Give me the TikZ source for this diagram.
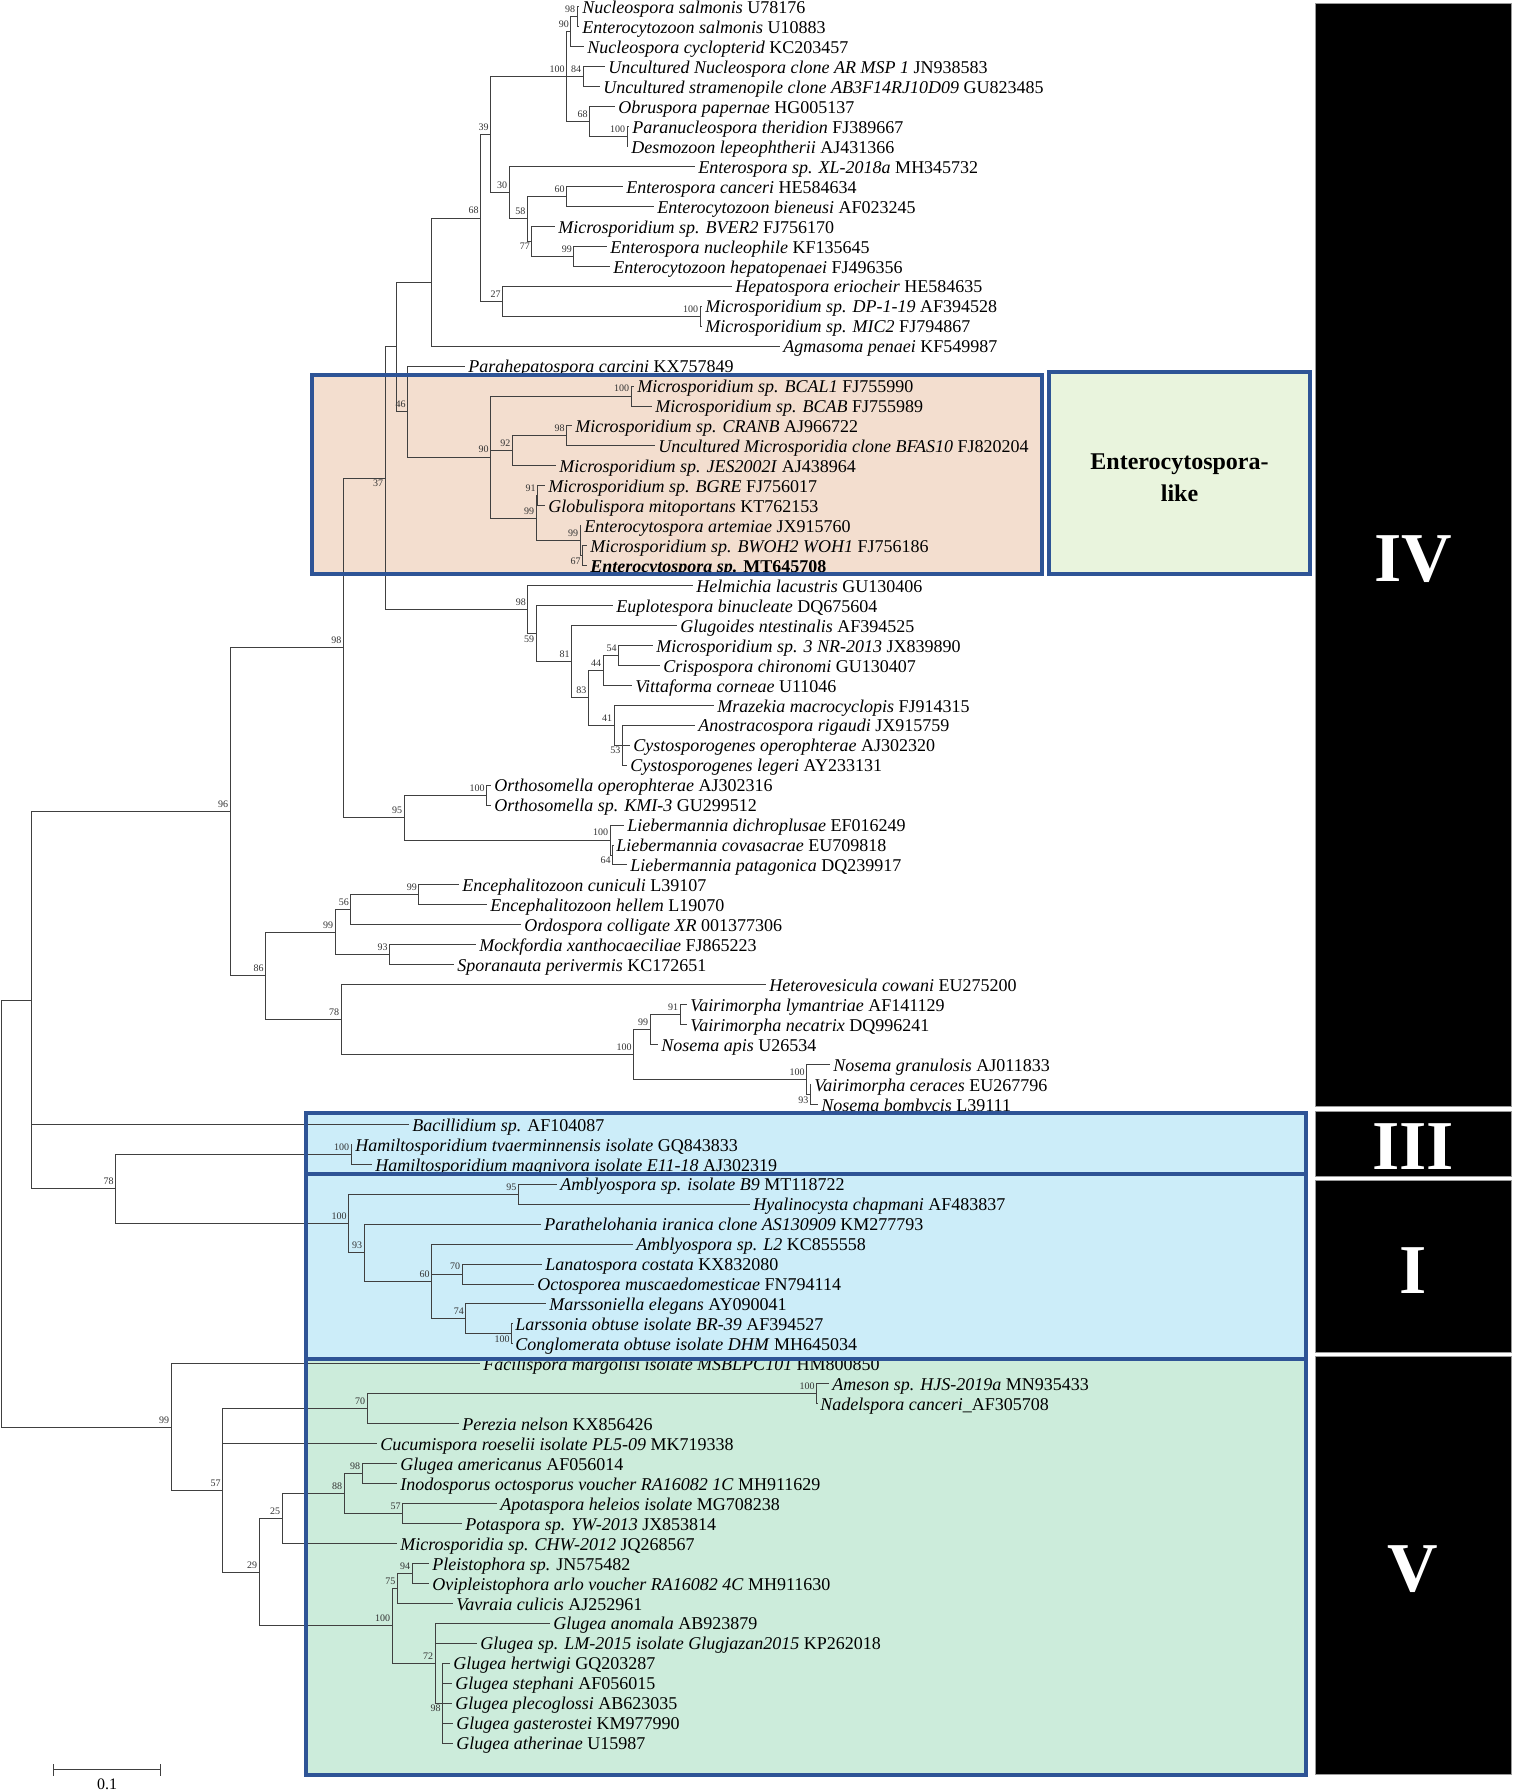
\documentclass[tikz,border=0pt]{standalone}
\usepackage{fontspec}
\setmainfont{Liberation Serif}
\definecolor{boxline}{RGB}{46,84,150}
\definecolor{peach}{RGB}{243,222,207}
\definecolor{palegreen}{RGB}{233,244,221}
\definecolor{skyfill}{RGB}{204,237,249}
\definecolor{mintfill}{RGB}{204,236,219}

\begin{document}
\begin{tikzpicture}[x=0.5pt, y=-9.9775pt,
    leaf/.style={anchor=west, inner xsep=1.5pt, inner ysep=0pt, text height=6.7pt, text depth=0pt, font=\fontsize{9}{10}\selectfont},
    boot/.style={font=\fontsize{5}{5}\selectfont, text=black!80, inner sep=0.8pt},
    bs/.style={label={[boot, yshift=1pt]above left:#1}},
    bsb/.style={label={[boot]below left:#1}},
    branch/.style={draw=black!75, line width=0.5pt},
    clade/.style={draw=boxline, line width=1.7pt},
    bar/.style={fill=black, draw=black!40, line width=0.5pt},
    roman/.style={text=white, font=\fontsize{35}{35}\bfseries}]
    \useasboundingbox (0,0.6542) rectangle (1512,90.456);

    %% clade shading
    \fill[peach] (312,19.45) rectangle (1042,29.42);
    \fill[skyfill] (306,56.43) rectangle (1306,68.76);
    \fill[mintfill] (306,68.76) rectangle (1306,89.60);

    %% Taxa
    \node[leaf] (l1) at (579,1) {\textit{Nucleospora salmonis} U78176};
    \node[leaf] (l2) at (579,2) {\textit{Enterocytozoon salmonis} U10883};
    \node[leaf] (l3) at (584,3) {\textit{Nucleospora cyclopterid} KC203457};
    \node[leaf] (l4) at (605,4) {\textit{Uncultured Nucleospora clone AR MSP 1} JN938583};
    \node[leaf] (l5) at (600,5) {\textit{Uncultured stramenopile clone AB3F14RJ10D09} GU823485};
    \node[leaf] (l6) at (615,6) {\textit{Obruspora papernae} HG005137};
    \node[leaf] (l7) at (629,7) {\textit{Paranucleospora theridion} FJ389667};
    \node[leaf] (l8) at (628,8) {\textit{Desmozoon lepeophtherii} AJ431366};
    \node[leaf] (l9) at (695,9) {\textit{Enterospora sp. XL-2018a} MH345732};
    \node[leaf] (l10) at (623,10) {\textit{Enterospora canceri} HE584634};
    \node[leaf] (l11) at (654,11) {\textit{Enterocytozoon bieneusi} AF023245};
    \node[leaf] (l12) at (555,12) {\textit{Microsporidium sp. BVER2} FJ756170};
    \node[leaf] (l13) at (607,13) {\textit{Enterospora nucleophile} KF135645};
    \node[leaf] (l14) at (610,14) {\textit{Enterocytozoon hepatopenaei} FJ496356};
    \node[leaf] (l15) at (732,15) {\textit{Hepatospora eriocheir} HE584635};
    \node[leaf] (l16) at (702,16) {\textit{Microsporidium sp. DP-1-19} AF394528};
    \node[leaf] (l17) at (702,17) {\textit{Microsporidium sp. MIC2} FJ794867};
    \node[leaf] (l18) at (780,18) {\textit{Agmasoma penaei} KF549987};
    \node[leaf] (l19) at (465,19) {\textit{Parahepatospora carcini} KX757849};
    \node[leaf] (l20) at (634,20) {\textit{Microsporidium sp. BCAL1} FJ755990};
    \node[leaf] (l21) at (652,21) {\textit{Microsporidium sp. BCAB} FJ755989};
    \node[leaf] (l22) at (572,22) {\textit{Microsporidium sp. CRANB} AJ966722};
    \node[leaf] (l23) at (655,23) {\textit{Uncultured Microsporidia clone BFAS10} FJ820204};
    \node[leaf] (l24) at (556,24) {\textit{Microsporidium sp. JES2002I} AJ438964};
    \node[leaf] (l25) at (545,25) {\textit{Microsporidium sp. BGRE} FJ756017};
    \node[leaf] (l26) at (545,26) {\textit{Globulispora mitoportans} KT762153};
    \node[leaf] (l27) at (581,27) {\textit{Enterocytospora artemiae} JX915760};
    \node[leaf] (l28) at (587,28) {\textit{Microsporidium sp. BWOH2 WOH1} FJ756186};
    \node[leaf] (l29) at (587,29) {\textbf{\textit{Enterocytospora sp.} MT645708}};
    \node[leaf] (l30) at (693,30) {\textit{Helmichia lacustris} GU130406};
    \node[leaf] (l31) at (613,31) {\textit{Euplotespora binucleate} DQ675604};
    \node[leaf] (l32) at (677,32) {\textit{Glugoides ntestinalis} AF394525};
    \node[leaf] (l33) at (653,33) {\textit{Microsporidium sp. 3 NR-2013} JX839890};
    \node[leaf] (l34) at (660,34) {\textit{Crispospora chironomi} GU130407};
    \node[leaf] (l35) at (632,35) {\textit{Vittaforma corneae} U11046};
    \node[leaf] (l36) at (714,36) {\textit{Mrazekia macrocyclopis} FJ914315};
    \node[leaf] (l37) at (695,37) {\textit{Anostracospora rigaudi} JX915759};
    \node[leaf] (l38) at (630,38) {\textit{Cystosporogenes operophterae} AJ302320};
    \node[leaf] (l39) at (627,39) {\textit{Cystosporogenes legeri} AY233131};
    \node[leaf] (l40) at (491,40) {\textit{Orthosomella operophterae} AJ302316};
    \node[leaf] (l41) at (491,41) {\textit{Orthosomella sp. KMI-3} GU299512};
    \node[leaf] (l42) at (624,42) {\textit{Liebermannia dichroplusae} EF016249};
    \node[leaf] (l43) at (613,43) {\textit{Liebermannia covasacrae} EU709818};
    \node[leaf] (l44) at (627,44) {\textit{Liebermannia patagonica} DQ239917};
    \node[leaf] (l45) at (459,45) {\textit{Encephalitozoon cuniculi} L39107};
    \node[leaf] (l46) at (487,46) {\textit{Encephalitozoon hellem} L19070};
    \node[leaf] (l47) at (521,47) {\textit{Ordospora colligate XR} 001377306};
    \node[leaf] (l48) at (476,48) {\textit{Mockfordia xanthocaeciliae} FJ865223};
    \node[leaf] (l49) at (454,49) {\textit{Sporanauta perivermis} KC172651};
    \node[leaf] (l50) at (766,50) {\textit{Heterovesicula cowani} EU275200};
    \node[leaf] (l51) at (687,51) {\textit{Vairimorpha lymantriae} AF141129};
    \node[leaf] (l52) at (687,52) {\textit{Vairimorpha necatrix} DQ996241};
    \node[leaf] (l53) at (658,53) {\textit{Nosema apis} U26534};
    \node[leaf] (l54) at (830,54) {\textit{Nosema granulosis} AJ011833};
    \node[leaf] (l55) at (811,55) {\textit{Vairimorpha ceraces} EU267796};
    \node[leaf] (l56) at (818,56) {\textit{Nosema bombycis} L39111};
    \node[leaf] (l57) at (409,57) {\textit{Bacillidium sp.} AF104087};
    \node[leaf] (l58) at (352,58) {\textit{Hamiltosporidium tvaerminnensis isolate} GQ843833};
    \node[leaf] (l59) at (372,59) {\textit{Hamiltosporidium magnivora isolate E11-18} AJ302319};
    \node[leaf] (l60) at (557,60) {\textit{Amblyospora sp. isolate B9} MT118722};
    \node[leaf] (l61) at (750,61) {\textit{Hyalinocysta chapmani} AF483837};
    \node[leaf] (l62) at (541,62) {\textit{Parathelohania iranica clone AS130909} KM277793};
    \node[leaf] (l63) at (633,63) {\textit{Amblyospora sp. L2} KC855558};
    \node[leaf] (l64) at (542,64) {\textit{Lanatospora costata} KX832080};
    \node[leaf] (l65) at (534,65) {\textit{Octosporea muscaedomesticae} FN794114};
    \node[leaf] (l66) at (546,66) {\textit{Marssoniella elegans} AY090041};
    \node[leaf] (l67) at (512,67) {\textit{Larssonia obtuse isolate BR-39} AF394527};
    \node[leaf] (l68) at (512,68) {\textit{Conglomerata obtuse isolate DHM} MH645034};
    \node[leaf] (l69) at (480,69) {\textit{Facilispora margolisi isolate MSBLPC101} HM800850};
    \node[leaf] (l70) at (829,70) {\textit{Ameson sp. HJS-2019a} MN935433};
    \node[leaf] (l71) at (817,71) {\textit{Nadelspora canceri}\_AF305708};
    \node[leaf] (l72) at (459,72) {\textit{Perezia nelson} KX856426};
    \node[leaf] (l73) at (377,73) {\textit{Cucumispora roeselii isolate PL5-09} MK719338};
    \node[leaf] (l74) at (397,74) {\textit{Glugea americanus} AF056014};
    \node[leaf] (l75) at (397,75) {\textit{Inodosporus octosporus voucher RA16082 1C} MH911629};
    \node[leaf] (l76) at (497,76) {\textit{Apotaspora heleios isolate} MG708238};
    \node[leaf] (l77) at (462,77) {\textit{Potaspora sp. YW-2013} JX853814};
    \node[leaf] (l78) at (397,78) {\textit{Microsporidia sp. CHW-2012} JQ268567};
    \node[leaf] (l79) at (429,79) {\textit{Pleistophora sp.} JN575482};
    \node[leaf] (l80) at (429,80) {\textit{Ovipleistophora arlo voucher RA16082 4C} MH911630};
    \node[leaf] (l81) at (453,81) {\textit{Vavraia culicis} AJ252961};
    \node[leaf] (l82) at (550,82) {\textit{Glugea anomala} AB923879};
    \node[leaf] (l83) at (477,83) {\textit{Glugea sp. LM-2015 isolate Glugjazan2015} KP262018};
    \node[leaf] (l84) at (450,84) {\textit{Glugea hertwigi} GQ203287};
    \node[leaf] (l85) at (452,85) {\textit{Glugea stephani} AF056015};
    \node[leaf] (l86) at (452,86) {\textit{Glugea plecoglossi} AB623035};
    \node[leaf] (l87) at (453,87) {\textit{Glugea gasterostei} KM977990};
    \node[leaf] (l88) at (453,88) {\textit{Glugea atherinae} U15987};

    %% Internal nodes with bootstrap values
    \coordinate[bs=98] (nucsal) at (577,1.5);
    \coordinate[bs=90] (nuc) at (570.8,2.25);
    \coordinate[bs=84] (uncl) at (583,4.5);
    \coordinate[bs=100] (desm) at (627,7.5);
    \coordinate[bs=68] (obr) at (589.5,6.75);
    \coordinate[bs=100] (nucgrp) at (566.5,4.5);
    \coordinate[bs=60] (entcan) at (566.5,10.5);
    \coordinate[bs=99] (hep) at (573.8,13.5);
    \coordinate[bsb=77] (c77) at (531.8,12.75);
    \coordinate[bs=58] (c58) at (527.4,11.625);
    \coordinate[bs=30] (c30) at (509,10.31);
    \coordinate[bs=39] (c39) at (490.6,7.41);
    \coordinate[bs=100] (dp) at (700,16.5);
    \coordinate[bs=27] (c27) at (502.7,15.75);
    \coordinate[bs=68] (c68) at (480.6,11.58);
    \coordinate (agm) at (431,14.79);
    \coordinate[bs=100] (bcal) at (631,20.5);
    \coordinate[bs=98] (cranb) at (566.6,22.5);
    \coordinate[bs=92] (c92) at (512.3,23.25);
    \coordinate[bs=91] (bgre) at (537.5,25.5);
    \coordinate[bsb=67] (mt) at (582.6,28.5);
    \coordinate[bs=99] (art) at (580.2,27.75);
    \coordinate[bs=99] (c99e) at (536,26.63);
    \coordinate[bs=90] (ecl) at (490.5,23.56);
    \coordinate[bs=46] (c46) at (407.5,21.28);
    \coordinate (c18) at (396.7,18.03);
    \coordinate[bs=54] (c54) at (618.5,33.5);
    \coordinate[bs=44] (c44) at (603,34.25);
    \coordinate[bsb=53] (cyst) at (622.3,38);
    \coordinate[bs=41] (c41) at (614.1,37);
    \coordinate[bs=83] (c83) at (588.4,35.625);
    \coordinate[bs=81] (c81) at (571.5,33.81);
    \coordinate[bsb=59] (c59) at (536,32.41);
    \coordinate[bs=98] (helm) at (527.8,31.2);
    \coordinate[bsb=37] (c37) at (385,24.62);
    \coordinate[bs=100] (orth) at (486.6,40.5);
    \coordinate[bsb=64] (c64) at (612.6,43.5);
    \coordinate[bs=100] (lieb) at (610.2,42.75);
    \coordinate[bs=95] (c95) at (404.2,41.625);
    \coordinate[bs=98] (c98) at (343.3,33.12);
    \coordinate[bs=99] (encph) at (418.8,45.5);
    \coordinate[bs=56] (c56) at (350.9,46.25);
    \coordinate[bs=93] (mock) at (389.7,48.5);
    \coordinate[bs=99] (enc) at (335,47.375);
    \coordinate[bs=91] (c91) at (680,51.5);
    \coordinate[bs=99] (vair) at (650,52.25);
    \coordinate[bsb=93] (bomb) at (810.4,55.5);
    \coordinate[bs=100] (gran) at (806.5,54.75);
    \coordinate[bs=100] (nos) at (633.5,53.5);
    \coordinate[bs=78] (c78) at (341.2,51.75);
    \coordinate[bs=86] (c86) at (265.7,49.56);
    \coordinate[bs=96] (c96) at (230,41.34);
    \coordinate[bs=100] (ham) at (351,58.5);
    \coordinate[bs=95] (ambl) at (518.4,60.5);
    \coordinate[bs=70] (lan) at (462.2,64.5);
    \coordinate[bsb=100] (lars) at (511.7,67.5);
    \coordinate[bs=74] (c74) at (465.8,66.75);
    \coordinate[bs=60] (c60) at (431.6,64.875);
    \coordinate[bs=93] (c93) at (364,63.44);
    \coordinate[bs=100] (cI) at (348.5,61.97);
    \coordinate[bs=78] (c78b) at (115.7,60.23);
    \coordinate (cIV) at (31.7,50.79);
    \coordinate[bs=100] (ame) at (816.7,70.5);
    \coordinate[bs=70] (c70) at (367,71.25);
    \coordinate[bs=98] (glam) at (362,74.5);
    \coordinate[bs=57] (apo) at (402.5,76.5);
    \coordinate[bs=88] (c88) at (344,75.5);
    \coordinate[bs=25] (c25) at (282,76.75);
    \coordinate[bs=94] (pleis) at (412,79.5);
    \coordinate[bs=75] (c75) at (397.3,80.25);
    \coordinate[bsb=98] (glu) at (442.7,86);
    \coordinate[bs=72] (c72) at (435,84);
    \coordinate[bs=100] (c100) at (392,82.125);
    \coordinate[bs=29] (c29) at (259,79.44);
    \coordinate[bs=57] (c57) at (222.7,75.34);
    \coordinate[bs=99] (cV) at (171.2,72.17);
    \coordinate (root) at (1.7,61.48);

    %% Branches
    \draw[branch] (nucsal) |- (l1) (nucsal) |- (l2);
    \draw[branch] (nuc) |- (nucsal) (nuc) |- (l3);
    \draw[branch] (uncl) |- (l4) (uncl) |- (l5);
    \draw[branch] (desm) |- (l7) (desm) |- (l8);
    \draw[branch] (obr) |- (l6) (obr) |- (desm);
    \draw[branch] (nucgrp) |- (nuc) (nucgrp) |- (uncl) (nucgrp) |- (obr);
    \draw[branch] (entcan) |- (l10) (entcan) |- (l11);
    \draw[branch] (hep) |- (l13) (hep) |- (l14);
    \draw[branch] (c77) |- (l12) (c77) |- (hep);
    \draw[branch] (c58) |- (entcan) (c58) |- (c77);
    \draw[branch] (c30) |- (l9) (c30) |- (c58);
    \draw[branch] (c39) |- (nucgrp) (c39) |- (c30);
    \draw[branch] (dp) |- (l16) (dp) |- (l17);
    \draw[branch] (c27) |- (l15) (c27) |- (dp);
    \draw[branch] (c68) |- (c39) (c68) |- (c27);
    \draw[branch] (agm) |- (c68) (agm) |- (l18);
    \draw[branch] (bcal) |- (l20) (bcal) |- (l21);
    \draw[branch] (cranb) |- (l22) (cranb) |- (l23);
    \draw[branch] (c92) |- (cranb) (c92) |- (l24);
    \draw[branch] (bgre) |- (l25) (bgre) |- (l26);
    \draw[branch] (mt) |- (l28) (mt) |- (l29);
    \draw[branch] (art) |- (l27) (art) |- (mt);
    \draw[branch] (c99e) |- (bgre) (c99e) |- (art);
    \draw[branch] (ecl) |- (bcal) (ecl) |- (c92) (ecl) |- (c99e);
    \draw[branch] (c46) |- (l19) (c46) |- (ecl);
    \draw[branch] (c18) |- (agm) (c18) |- (c46);
    \draw[branch] (c54) |- (l33) (c54) |- (l34);
    \draw[branch] (c44) |- (c54) (c44) |- (l35);
    \draw[branch] (cyst) |- (l37) (cyst) |- (l38) (cyst) |- (l39);
    \draw[branch] (c41) |- (l36) (c41) |- (cyst);
    \draw[branch] (c83) |- (c44) (c83) |- (c41);
    \draw[branch] (c81) |- (l32) (c81) |- (c83);
    \draw[branch] (c59) |- (l31) (c59) |- (c81);
    \draw[branch] (helm) |- (l30) (helm) |- (c59);
    \draw[branch] (c37) |- (c18) (c37) |- (helm);
    \draw[branch] (orth) |- (l40) (orth) |- (l41);
    \draw[branch] (c64) |- (l43) (c64) |- (l44);
    \draw[branch] (lieb) |- (l42) (lieb) |- (c64);
    \draw[branch] (c95) |- (orth) (c95) |- (lieb);
    \draw[branch] (c98) |- (c37) (c98) |- (c95);
    \draw[branch] (encph) |- (l45) (encph) |- (l46);
    \draw[branch] (c56) |- (encph) (c56) |- (l47);
    \draw[branch] (mock) |- (l48) (mock) |- (l49);
    \draw[branch] (enc) |- (c56) (enc) |- (mock);
    \draw[branch] (c91) |- (l51) (c91) |- (l52);
    \draw[branch] (vair) |- (c91) (vair) |- (l53);
    \draw[branch] (bomb) |- (l55) (bomb) |- (l56);
    \draw[branch] (gran) |- (l54) (gran) |- (bomb);
    \draw[branch] (nos) |- (vair) (nos) |- (gran);
    \draw[branch] (c78) |- (l50) (c78) |- (nos);
    \draw[branch] (c86) |- (enc) (c86) |- (c78);
    \draw[branch] (c96) |- (c98) (c96) |- (c86);
    \draw[branch] (ham) |- (l58) (ham) |- (l59);
    \draw[branch] (ambl) |- (l60) (ambl) |- (l61);
    \draw[branch] (lan) |- (l64) (lan) |- (l65);
    \draw[branch] (lars) |- (l67) (lars) |- (l68);
    \draw[branch] (c74) |- (l66) (c74) |- (lars);
    \draw[branch] (c60) |- (l63) (c60) |- (lan) (c60) |- (c74);
    \draw[branch] (c93) |- (l62) (c93) |- (c60);
    \draw[branch] (cI) |- (ambl) (cI) |- (c93);
    \draw[branch] (c78b) |- (ham) (c78b) |- (cI);
    \draw[branch] (cIV) |- (c96) (cIV) |- (l57) (cIV) |- (c78b);
    \draw[branch] (ame) |- (l70) (ame) |- (l71);
    \draw[branch] (c70) |- (ame) (c70) |- (l72);
    \draw[branch] (glam) |- (l74) (glam) |- (l75);
    \draw[branch] (apo) |- (l76) (apo) |- (l77);
    \draw[branch] (c88) |- (glam) (c88) |- (apo);
    \draw[branch] (c25) |- (c88) (c25) |- (l78);
    \draw[branch] (pleis) |- (l79) (pleis) |- (l80);
    \draw[branch] (c75) |- (pleis) (c75) |- (l81);
    \draw[branch] (glu) |- (l84) (glu) |- (l85) (glu) |- (l86) (glu) |- (l87) (glu) |- (l88);
    \draw[branch] (c72) |- (l82) (c72) |- (l83) (c72) |- (glu);
    \draw[branch] (c100) |- (c75) (c100) |- (c72);
    \draw[branch] (c29) |- (c25) (c29) |- (c100);
    \draw[branch] (c57) |- (c70) (c57) |- (l73) (c57) |- (c29);
    \draw[branch] (cV) |- (l69) (cV) |- (c57);
    \draw[branch] (root) |- (cIV) (root) |- (cV);

    %% clade frames
    \draw[clade] (312,19.45) rectangle (1042,29.42);
    \draw[clade] (306,56.43) rectangle (1306,59.49);
    \draw[clade] (306,59.49) rectangle (1306,68.76);
    \draw[clade] (306,68.76) rectangle (1306,89.60);
    \draw[clade, fill=palegreen] (1049,19.30) rectangle (1310,29.42);
    \node[align=center, font=\fontsize{12}{16}\bfseries] (eclike) at (1179.5,24.6) {Enterocytospora-\\like};

    %% groups
    \draw[bar] (1315,0.82) rectangle (1511,56.08);
    \draw[bar] (1315,56.33) rectangle (1511,59.59);
    \draw[bar] (1315,59.81) rectangle (1511,68.41);
    \draw[bar] (1315,68.63) rectangle (1511,89.60);
    \node[roman] (IV) at (1413,28.67) {IV};
    \node[roman] (III) at (1413,58.1) {III};
    \node[roman] (I) at (1413,64.35) {I};
    \node[roman] (V) at (1413,79.28) {V};

    %% scale
    \draw[branch, |-|] (53,89.33) -- (161,89.33);
    \node[font=\fontsize{8}{8}\selectfont] (scl) at (107,90.08) {0.1};
\end{tikzpicture}
\end{document}
